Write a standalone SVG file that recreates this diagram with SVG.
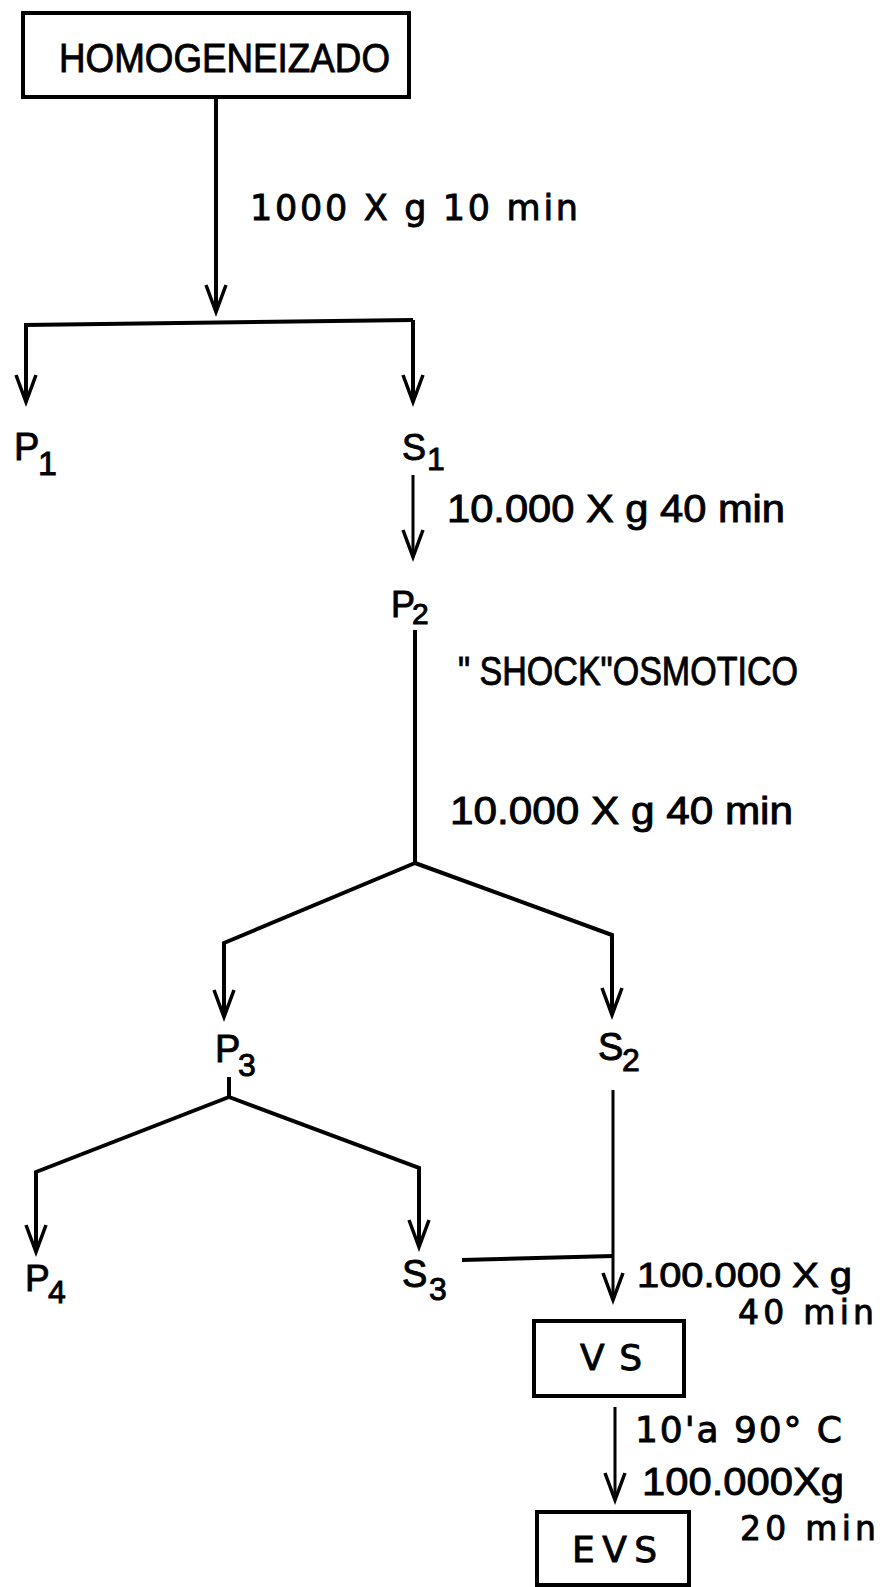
<svg xmlns="http://www.w3.org/2000/svg" width="885" height="1587" viewBox="0 0 885 1587">
<style>
.t{font-family:"Liberation Sans",Arial,sans-serif;fill:#000;stroke:#000;stroke-width:0.9}
.d{font-family:"DejaVu Sans","Liberation Sans",sans-serif}
.box{fill:none;stroke:#000;stroke-width:4}
.c{fill:none;stroke:#000;stroke-width:4;stroke-linejoin:miter}
.thin{stroke-width:3}
.ar{marker-end:url(#ah)}
</style>
<defs>
<marker id="ah" markerUnits="userSpaceOnUse" markerWidth="40" markerHeight="30" viewBox="-30 -15 40 30" refX="0" refY="0" orient="auto" overflow="visible">
<path d="M-27,-10 L0,0 L-27,10" fill="none" stroke="#000" stroke-width="3.5"/>
</marker>
</defs>
<rect width="885" height="1587" fill="#fff"/>
<g id="connectors">
<path class="c ar" d="M216,97 V312"/>
<path class="c" d="M24,325 L413,320"/>
<path class="c ar" d="M26,325 V402"/>
<path class="c ar" d="M413,320 V402"/>
<path class="c thin ar" d="M413,475 V557"/>
<path class="c" d="M415,630 V863"/>
<path class="c ar" d="M415,863 L224,943 V1017"/>
<path class="c ar" d="M415,863 L612,935 V1015"/>
<path class="c" d="M229,1077 V1097"/>
<path class="c ar" d="M229,1097 L36,1172 V1252"/>
<path class="c ar" d="M229,1097 L419,1168 V1247"/>
<path class="c thin ar" d="M613,1090 V1300"/>
<path class="c" d="M462,1260 L613,1256"/>
<path class="c thin ar" d="M615,1407 V1500"/>
</g>
<g id="homogeneizado">
<rect class="box" x="23" y="13" width="386" height="84"/>
<text class="t" x="59" y="72" font-size="41" textLength="331" lengthAdjust="spacingAndGlyphs" stroke-width="1.4">HOMOGENEIZADO</text>
</g>
<g id="label-1000">
<text class="t d" x="250" y="220" font-size="35" textLength="328">1000 X g 10 min</text>
</g>
<g id="P1">
<text class="t" x="14" y="460" font-size="38">P</text>
<text class="t" x="38" y="475" font-size="34">1</text>
</g>
<g id="S1">
<text class="t" x="402" y="460" font-size="36">S</text>
<text class="t" x="427" y="470" font-size="32">1</text>
</g>
<g id="label-10000-a">
<text class="t" x="447" y="522" font-size="38" textLength="338" lengthAdjust="spacingAndGlyphs">10.000 X g 40 min</text>
</g>
<g id="P2">
<text class="t" x="391" y="617" font-size="36">P</text>
<text class="t" x="412" y="624" font-size="30">2</text>
</g>
<g id="label-shock">
<text class="t" x="458" y="685" font-size="40" textLength="340" lengthAdjust="spacingAndGlyphs">" SHOCK"OSMOTICO</text>
</g>
<g id="label-10000-b">
<text class="t" x="450" y="824" font-size="38" textLength="343" lengthAdjust="spacingAndGlyphs">10.000 X g 40 min</text>
</g>
<g id="P3">
<text class="t" x="215" y="1062" font-size="38">P</text>
<text class="t" x="238" y="1076" font-size="32">3</text>
</g>
<g id="S2">
<text class="t" x="598" y="1060" font-size="38">S</text>
<text class="t" x="622" y="1071" font-size="32">2</text>
</g>
<g id="P4">
<text class="t" x="25" y="1291" font-size="37">P</text>
<text class="t" x="48" y="1303" font-size="32">4</text>
</g>
<g id="S3">
<text class="t" x="402" y="1287" font-size="38">S</text>
<text class="t" x="429" y="1300" font-size="32">3</text>
</g>
<g id="label-100000-a">
<text class="t" x="637" y="1287" font-size="35" textLength="215" lengthAdjust="spacingAndGlyphs">100.000 X g</text>
<text class="t d" x="738" y="1324" font-size="33" textLength="136">40 min</text>
</g>
<g id="VS">
<rect class="box" x="534" y="1321" width="150" height="75"/>
<text class="t d" x="580" y="1370" font-size="36" textLength="62">V S</text>
</g>
<g id="label-90">
<text class="t d" x="635" y="1442" font-size="36" textLength="207">10'a 90° C</text>
</g>
<g id="label-100000-b">
<text class="t" x="642" y="1495" font-size="38" textLength="202" lengthAdjust="spacingAndGlyphs">100.000Xg</text>
<text class="t d" x="740" y="1540" font-size="33" textLength="136">20 min</text>
</g>
<g id="EVS">
<rect class="box" x="537" y="1512" width="152" height="73"/>
<text class="t d" x="572" y="1562" font-size="36" textLength="85">EVS</text>
</g>
</svg>
